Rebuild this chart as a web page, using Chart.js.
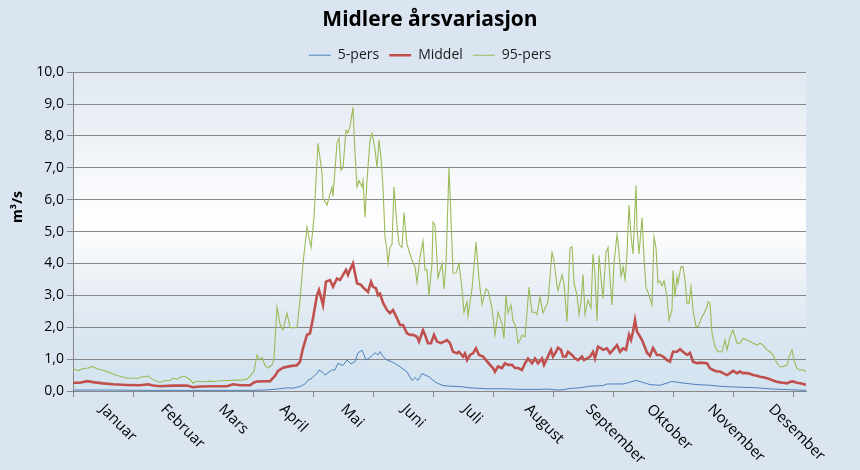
<!DOCTYPE html>
<html>
<head>
<meta charset="utf-8">
<script src="https://cdn.jsdelivr.net/npm/chart.js@4"></script>
<style>
html,body{margin:0;padding:0;background:#dbe5f1;}
#wrap{width:860px;height:470px;}
</style>
</head>
<body>
<div id="wrap"><canvas id="c" width="860" height="470"></canvas></div>
<script>
// ---------- data ----------
const titleText = 'Midlere årsvariasjon';
const yTitle = 'm³/s';
const seriesNames = ['5-pers', 'Middel', '95-pers'];
const monthNames = ['Januar','Februar','Mars','April','Mai','Juni','Juli','August','September','Oktober','November','Desember'];
const monthLabelDays = [15,45.5,74.5,105,135.5,166,196.5,227.5,258,288.5,319,349.5];
const tickDays = [0,30,60,90,120,150,180,210,240,270,300,330,360];
const yTicks = [0,1,2,3,4,5,6,7,8,9,10];

const pers95Days = [0,2.5,5,7.5,9.5,12,14.5,17.5,20,22.5,25,27,30,32.5,34,36,37.5,39.5,41.5,43.5,46,48.5,50,52,54,55.5,57.5,59,60,61.5,63.5,66,68.5,71,73.5,77,81,85,87,89,90.5,92,93.5,94.5,96,97.5,99.5,100.5,102,103.5,105,107,108.5,110,112,113.5,115,117,119,120.5,122.5,124.5,125,127,129.5,130,132,133,134,135,136.5,137.5,138.5,140,141,142,143,144.5,145,146,147,148.5,149.5,151,152,153,154,155,156,157,157.5,158.5,159.5,160.5,162,163,164.5,165.5,167,168,169.5,171,172,173.5,175,176,177,178,179.5,180,181,182.5,184.5,185.5,186.5,188,189,190,191.5,193,194.5,195.5,197,197.5,199.5,201.5,203,204.5,206.5,207.5,209.5,211,212.5,214.5,215.5,216.5,217.5,219,220,221.5,222.5,223.5,224.5,226,227,228,229.5,231,232,233.5,235,237.5,239.5,240.5,242,242.5,244.5,245.5,247,248.5,249.5,250.5,252,253,254,255,256,257.5,259,260,261,262,263,264.5,265,266.5,267.5,268.5,269.5,270.5,272,272.5,274,275,276,277,278,279,280,281.5,282,283,284.5,285.5,286.5,287.5,289.5,290.5,291.5,292.5,293.5,294.5,295.5,297,298,299.5,300,301,302,302.5,304,305,306,307,308,309,310,311.5,312.5,314.5,315.5,317,317.5,318.5,319.5,321,322.5,324.5,326,327,328.5,330,332,333.5,335,337,338.5,340,342,343.5,345,347,348.5,350,352,353.5,355,357,358,359.5,360.5,362,363.5,365,366.5];
const pers95Vals = [0.70,0.64,0.70,0.72,0.77,0.70,0.66,0.60,0.53,0.48,0.44,0.40,0.40,0.40,0.44,0.45,0.47,0.38,0.32,0.27,0.33,0.33,0.40,0.37,0.44,0.47,0.40,0.33,0.24,0.30,0.30,0.29,0.31,0.30,0.32,0.33,0.34,0.35,0.37,0.50,0.62,1.13,0.98,1.05,0.80,0.72,0.82,1.00,2.64,2.10,1.92,2.44,2.00,1.98,2.00,2.85,4.00,5.14,4.50,5.45,7.77,6.83,6.05,5.83,6.40,6.10,7.77,7.93,6.93,7.00,8.18,8.10,8.30,8.90,7.45,6.40,6.60,6.40,6.60,5.45,6.60,7.87,8.08,7.60,7.00,7.87,7.30,6.40,4.83,4.40,4.00,4.50,4.60,6.40,5.20,4.60,4.50,5.60,4.60,4.40,4.10,3.90,3.40,4.20,4.70,3.80,3.80,3.00,4.00,5.30,5.20,3.54,4.00,3.20,4.00,7.00,5.40,3.70,3.70,4.00,3.20,2.47,2.80,2.35,3.20,4.67,3.50,2.72,3.20,3.15,2.60,1.75,2.47,2.10,1.65,3.00,2.45,2.70,2.20,2.00,1.50,1.60,1.75,1.70,2.47,3.26,2.47,2.47,2.40,2.95,2.45,2.80,4.35,4.10,3.30,3.15,3.65,3.35,2.17,4.48,4.53,3.40,3.00,2.40,2.80,3.65,2.40,2.85,2.60,4.30,3.65,2.20,4.25,3.20,2.90,4.35,4.50,3.50,2.70,4.00,4.90,4.70,3.60,3.90,3.50,4.30,5.83,4.87,4.30,6.45,5.10,4.30,5.43,4.20,3.25,3.10,2.70,4.83,4.50,3.40,3.45,3.30,3.45,2.96,2.22,2.54,3.79,2.96,3.58,3.38,3.90,3.90,3.48,2.75,2.75,3.27,2.54,2.02,2.02,2.33,2.43,2.64,2.80,2.75,1.81,1.39,1.23,1.23,1.60,1.29,1.70,1.91,1.50,1.50,1.65,1.60,1.55,1.50,1.44,1.50,1.44,1.29,1.23,1.13,0.87,0.76,0.76,0.82,1.08,1.29,0.97,0.71,0.66,0.66,0.61];

const middelDays = [0,3.5,7,11,15,20,27,33.5,37.5,40,43.5,50,57,60,63.5,70,77,80,83.5,88.5,90.5,92,98.5,101,102.5,105,108.5,112,113.5,115,117,118.5,120,122,123,125,126.5,128.5,130,132,133.5,135,136.5,137.5,138.5,140,141,142,144,145.5,147.5,149,150,151.5,152.5,153.5,155,157,158.5,160,162,163.5,165,167,168.5,170,172,173,175,176,177.5,179,180.5,182,184,185.5,187,188.5,190,192,193,195,196,197,198.5,200,201.5,203,205,206.5,208.5,210,211,212.5,214.5,216,217.5,219.5,221,222.5,224.5,226,227.5,229.5,231,232.5,234.5,235.5,237,239,240,241.5,242.5,244,245,246.5,247.5,249.5,251,252.5,254.5,255.5,257,258.5,260,261,262.5,264,265,267,268.5,270,272,273.5,275,276.5,278,279,280,281,282,283,284.5,285.5,287,288.5,290,292,293.5,295,297,298.5,300,302,303.5,305,307,308.5,310,312,313.5,317,318.5,320,322,323.5,325,327,328.5,330,332,333.5,335,337,338.5,340,342,343.5,345,347,348.5,350,352,353.5,355,357,358.5,360,362,363.5,365,366.5];
const middelVals = [0.26,0.26,0.31,0.27,0.24,0.21,0.19,0.18,0.21,0.17,0.15,0.17,0.17,0.12,0.14,0.15,0.15,0.21,0.18,0.18,0.27,0.30,0.31,0.47,0.63,0.73,0.78,0.81,0.92,1.34,1.76,1.81,2.28,3.00,3.17,2.70,3.43,3.48,3.27,3.53,3.48,3.64,3.80,3.64,3.80,4.00,3.69,3.38,3.33,3.22,3.11,3.43,3.27,3.22,3.00,3.05,2.77,2.54,2.44,2.54,2.28,2.07,2.07,1.81,1.76,1.76,1.70,1.55,1.91,1.76,1.50,1.50,1.76,1.55,1.50,1.55,1.60,1.50,1.23,1.18,1.23,1.08,1.18,0.97,1.13,1.18,1.34,1.13,1.08,0.97,0.82,0.72,0.60,0.77,0.72,0.87,0.82,0.82,0.72,0.72,0.66,0.87,1.02,0.87,1.02,0.87,1.02,0.82,1.02,1.29,1.08,1.23,1.36,1.29,1.08,1.08,1.23,1.13,1.02,0.97,1.08,0.97,1.02,1.08,1.23,1.02,1.39,1.34,1.29,1.34,1.18,1.29,1.44,1.23,1.34,1.29,1.76,1.60,1.86,2.23,1.86,1.76,1.60,1.44,1.20,1.10,1.35,1.13,1.13,1.08,0.97,0.92,1.23,1.23,1.31,1.23,1.13,1.20,0.92,0.87,0.89,0.87,0.71,0.66,0.61,0.61,0.56,0.50,0.56,0.63,0.56,0.61,0.56,0.56,0.54,0.50,0.48,0.45,0.43,0.40,0.37,0.33,0.29,0.27,0.26,0.24,0.29,0.30,0.26,0.24,0.22,0.20];

const pers5Days = [0,13.5,38.5,63.5,88.5,96,100,103.5,107,110,113.5,116,117.5,119.5,122,123,125,126,128.5,129.5,131,132.5,135,137,139,141,142.5,144.5,146.5,148.5,151,152.5,153.5,155,157,160,163.5,167,169.5,171,172.5,174.5,176,178,179.5,182,185,188.5,193.5,198.5,207,215,223.5,232,237.5,242,245,248.5,253.5,258.5,265,267,272,275,277,281.5,285,288.5,293.5,299.5,305,312,318.5,325,333.5,342,350,358.5,366.5];
const pers5Vals = [0.03,0.03,0.02,0.02,0.02,0.03,0.05,0.07,0.10,0.09,0.14,0.22,0.34,0.40,0.56,0.66,0.58,0.50,0.62,0.66,0.66,0.87,0.80,0.97,0.85,0.92,1.20,1.28,0.97,1.05,1.20,1.13,1.24,1.08,0.97,0.90,0.76,0.60,0.33,0.42,0.33,0.55,0.50,0.45,0.36,0.25,0.17,0.15,0.14,0.10,0.07,0.07,0.05,0.05,0.06,0.03,0.04,0.08,0.10,0.15,0.17,0.22,0.22,0.22,0.25,0.33,0.27,0.20,0.18,0.30,0.25,0.20,0.18,0.14,0.12,0.10,0.06,0.04,0.02];

// ---------- chart ----------
const FONT = '"Open Sans", "Noto Sans", sans-serif';
const GRID = '#878787';
const toPts = (ds, vs) => ds.map((d, i) => ({x: d, y: vs[i]}));

const bgPlugin = {
  id: 'bg',
  beforeDraw(chart) {
    const {ctx, chartArea: a} = chart;
    ctx.save();
    ctx.fillStyle = '#dbe5f1';
    ctx.fillRect(0, 0, chart.width, chart.height);
    const g = ctx.createLinearGradient(0, a.top, 0, a.bottom);
    g.addColorStop(0, '#e1e8f1');
    g.addColorStop(0.48, '#ffffff');
    g.addColorStop(0.72, '#e4ebf3');
    g.addColorStop(0.85, '#d9e6f1');
    g.addColorStop(1, '#d3e4f0');
    ctx.fillStyle = g;
    ctx.fillRect(a.left, a.top, a.right - a.left, a.bottom - a.top);
    ctx.restore();
  }
};

const textPlugin = {
  id: 'texts',
  afterDraw(chart) {
    const {ctx} = chart;
    const xs = chart.scales.x;
    ctx.save();
    ctx.fillStyle = '#000';
    ctx.font = '15px ' + FONT;
    ctx.textAlign = 'left';
    ctx.textBaseline = 'middle';
    monthNames.forEach((m, i) => {
      const px = xs.getPixelForValue(monthLabelDays[i]);
      ctx.save();
      ctx.translate(px - 1, 407);
      ctx.rotate(Math.PI / 4);
      ctx.fillText(m, 0, 0);
      ctx.restore();
    });
    ctx.font = 'bold 14px ' + FONT;
    ctx.textAlign = 'center';
    ctx.save();
    ctx.translate(18, 207);
    ctx.rotate(-Math.PI / 2);
    ctx.fillText(yTitle, 0, 0);
    ctx.restore();
    ctx.restore();
  }
};

new Chart(document.getElementById('c'), {
  type: 'line',
  data: {
    datasets: [
      {label: seriesNames[0], data: toPts(pers5Days, pers5Vals), borderColor: '#4f81bd', backgroundColor: '#4f81bd', borderWidth: 1, order: 3},
      {label: seriesNames[1], data: toPts(middelDays, middelVals), borderColor: '#c0504d', backgroundColor: '#c0504d', borderWidth: 2.6, order: 2},
      {label: seriesNames[2], data: toPts(pers95Days, pers95Vals), borderColor: '#9bbb59', backgroundColor: '#9bbb59', borderWidth: 1.1, order: 1}
    ]
  },
  options: {
    responsive: false,
    animation: false,
    devicePixelRatio: 1,
    elements: {point: {radius: 0}, line: {tension: 0}},
    layout: {padding: {top: 0, left: 0, right: 0, bottom: 0}},
    plugins: {
      tooltip: {enabled: false},
      title: {
        display: true, text: titleText, color: '#000',
        font: {family: FONT, size: 21, weight: 'bold'},
        padding: {top: 7, bottom: 6}
      },
      legend: {
        display: true, position: 'top',
        labels: {
          color: '#1a1a1a', font: {family: FONT, size: 14},
          usePointStyle: true, pointStyle: 'line', pointStyleWidth: 22,
          padding: 10,
          sort: (a, b) => a.datasetIndex - b.datasetIndex
        }
      }
    },
    scales: {
      x: {
        type: 'linear', min: 0, max: 366.5,
        afterBuildTicks: s => { s.ticks = tickDays.map(v => ({value: v})); },
        afterFit: s => { s.height = 79; },
        ticks: {display: false},
        grid: {drawOnChartArea: false, drawTicks: true, tickLength: 6, color: GRID},
        border: {color: GRID}
      },
      y: {
        min: 0, max: 10,
        afterBuildTicks: s => { s.ticks = yTicks.map(v => ({value: v})); },
        afterFit: s => { s.width = 73; },
        ticks: {
          color: '#000', font: {family: FONT, size: 14}, padding: 3,
          callback: v => v.toFixed(1).replace('.', ',')
        },
        grid: {color: GRID, tickLength: 6},
        border: {color: GRID}
      },
      yR: {
        position: 'right', display: true,
        afterFit: s => { s.width = 54; },
        ticks: {display: false},
        grid: {display: false},
        border: {display: false}
      }
    }
  },
  plugins: [bgPlugin, textPlugin]
});
</script>
</body>
</html>
